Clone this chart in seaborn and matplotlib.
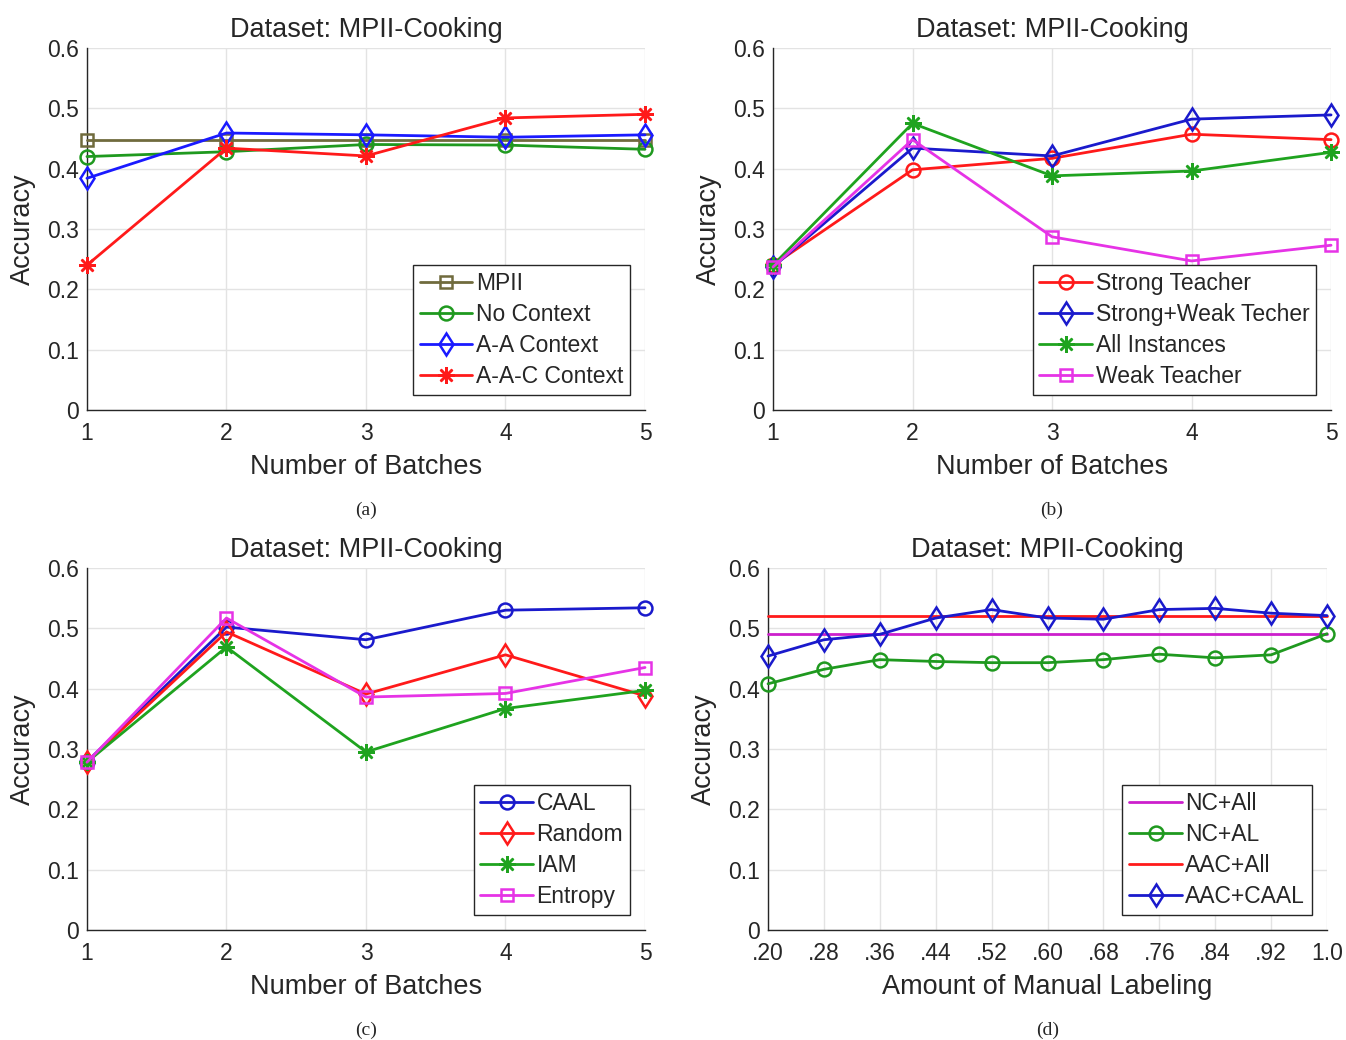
import numpy as np
import pandas as pd
import matplotlib
matplotlib.use("Agg")
import matplotlib.pyplot as plt
import seaborn as sns

# ---------------- data ----------------
batches = [1, 2, 3, 4, 5]

# panel (a)
a_mpii = [0.447, 0.447, 0.447, 0.447, 0.447]
a_nocontext = [0.420, 0.428, 0.440, 0.439, 0.432]
a_aa = [0.384, 0.459, 0.456, 0.452, 0.456]
a_aac = [0.240, 0.434, 0.421, 0.484, 0.490]

# panel (b)
b_strong = [0.240, 0.398, 0.417, 0.457, 0.448]
b_strongweak = [0.237, 0.434, 0.421, 0.482, 0.489]
b_all = [0.240, 0.475, 0.388, 0.396, 0.427]
b_weak = [0.237, 0.448, 0.287, 0.247, 0.273]

# panel (c)
c_caal = [0.279, 0.502, 0.481, 0.530, 0.534]
c_random = [0.278, 0.494, 0.391, 0.456, 0.388]
c_iam = [0.278, 0.469, 0.295, 0.367, 0.397]
c_entropy = [0.278, 0.517, 0.386, 0.392, 0.435]

# panel (d)
manual = [0.20, 0.28, 0.36, 0.44, 0.52, 0.60, 0.68, 0.76, 0.84, 0.92, 1.0]
manual_labels = [".20", ".28", ".36", ".44", ".52", ".60", ".68", ".76", ".84", ".92", "1.0"]
d_nc_all = [0.491] * 11
d_nc_al = [0.408, 0.432, 0.448, 0.445, 0.443, 0.443, 0.448, 0.457, 0.451, 0.456, 0.491]
d_aac_all = [0.521] * 11
d_aac_caal = [0.454, 0.481, 0.490, 0.517, 0.531, 0.517, 0.515, 0.531, 0.533, 0.525, 0.521]

yticks = [0, 0.1, 0.2, 0.3, 0.4, 0.5, 0.6]
ytick_labels = ["0", "0.1", "0.2", "0.3", "0.4", "0.5", "0.6"]

# ---------------- style ----------------
sns.set_theme(style="whitegrid")
plt.rcParams['font.family'] = ['Liberation Sans', 'DejaVu Sans']
plt.rcParams['axes.edgecolor'] = '#262626'
plt.rcParams['grid.color'] = '#e3e3e3'
plt.rcParams['grid.linewidth'] = 1.0

fig = plt.figure(figsize=(13.46, 10.40), dpi=100)

W = 0.4146
H = 0.3481
positions = {
    'a': [0.0646, 0.6058, W, H],
    'b': [0.5743, 0.6058, W, H],
    'c': [0.0646, 0.1058, W, H],
    'd': [0.5706, 0.1058, 0.4153, H],
}

LW = 2.0
MS = 10
MEW = 1.8


def draw(ax, x, y, color, marker, label, ms=MS):
    kw = dict(x=x, y=y, ax=ax, color=color, label=label, linewidth=LW,
              clip_on=False, zorder=3)
    if marker is not None:
        kw.update(marker=marker, markersize=ms, markerfacecolor='none',
                  markeredgecolor=color, markeredgewidth=MEW)
    sns.lineplot(**kw)


def style_axes(ax, xlabel, caption):
    ax.set_ylim(0, 0.6)
    ax.set_yticks(yticks)
    ax.set_yticklabels(ytick_labels)
    ax.set_title("Dataset: MPII-Cooking", fontsize=19.5, pad=8)
    ax.set_xlabel(xlabel, fontsize=19.5, labelpad=6)
    ax.set_ylabel("Accuracy", fontsize=19.5, labelpad=8)
    ax.tick_params(axis='both', direction='in', length=6, width=1,
                   labelsize=16.5, colors='#262626', pad=6)
    ax.tick_params(axis='x', pad=9)
    ax.set_axisbelow(True)
    ax.grid(True, color='#e3e3e3', linewidth=1.0, zorder=0)
    for s in ['top', 'right']:
        ax.spines[s].set_visible(False)
    for s in ['left', 'bottom']:
        ax.spines[s].set_visible(True)
        ax.spines[s].set_color('#262626')
        ax.spines[s].set_linewidth(1.0)
        ax.spines[s].set_zorder(2.5)
    ax.set_facecolor('white')
    ax.text(0.5, -0.276, caption, transform=ax.transAxes, ha='center', va='center',
            fontsize=14, family=['Liberation Serif', 'DejaVu Serif'])
    leg = ax.legend(loc='lower right', fontsize=16.5, frameon=True, fancybox=False,
                    edgecolor='#262626', framealpha=1, handlelength=2.3,
                    handletextpad=0.15, borderpad=0.3, labelspacing=0.35,
                    borderaxespad=0.65)
    leg.get_frame().set_linewidth(1.0)
    leg.set_zorder(5)


star = (8, 2, 0)

# (a)
ax = fig.add_axes(positions['a'])
draw(ax, batches, a_mpii, '#706b3d', 's', 'MPII', ms=8)
draw(ax, batches, a_nocontext, '#1f991f', 'o', 'No Context')
draw(ax, batches, a_aa, '#1a1aff', 'd', 'A-A Context', ms=11.5)
draw(ax, batches, a_aac, '#ff1a1a', star, 'A-A-C Context', ms=12)
ax.set_xlim(1, 5)
ax.set_xticks(batches)
style_axes(ax, "Number of Batches", "(a)")

# (b)
ax = fig.add_axes(positions['b'])
draw(ax, batches, b_strong, '#ff1a1a', 'o', 'Strong Teacher')
draw(ax, batches, b_strongweak, '#1a1acc', 'd', 'Strong+Weak Techer', ms=11.5)
draw(ax, batches, b_all, '#1fa31f', star, 'All Instances', ms=12)
draw(ax, batches, b_weak, '#e633e6', 's', 'Weak Teacher', ms=8)
ax.set_xlim(1, 5)
ax.set_xticks(batches)
style_axes(ax, "Number of Batches", "(b)")

# (c)
ax = fig.add_axes(positions['c'])
draw(ax, batches, c_caal, '#1a1acc', 'o', 'CAAL')
draw(ax, batches, c_random, '#ff1a1a', 'd', 'Random', ms=11.5)
draw(ax, batches, c_iam, '#1fa31f', star, 'IAM', ms=12)
draw(ax, batches, c_entropy, '#e633e6', 's', 'Entropy', ms=8)
ax.set_xlim(1, 5)
ax.set_xticks(batches)
style_axes(ax, "Number of Batches", "(c)")

# (d)
ax = fig.add_axes(positions['d'])
draw(ax, manual, d_nc_all, '#cc1fcc', None, 'NC+All')
draw(ax, manual, d_nc_al, '#1f991f', 'o', 'NC+AL')
draw(ax, manual, d_aac_all, '#ff1a1a', None, 'AAC+All')
draw(ax, manual, d_aac_caal, '#1a1acc', 'd', 'AAC+CAAL', ms=11.5)
ax.set_xlim(0.2, 1.0)
ax.set_xticks(manual)
ax.set_xticklabels(manual_labels)
style_axes(ax, "Amount of Manual Labeling", "(d)")

fig.savefig("out.png", dpi=100, facecolor='white')
